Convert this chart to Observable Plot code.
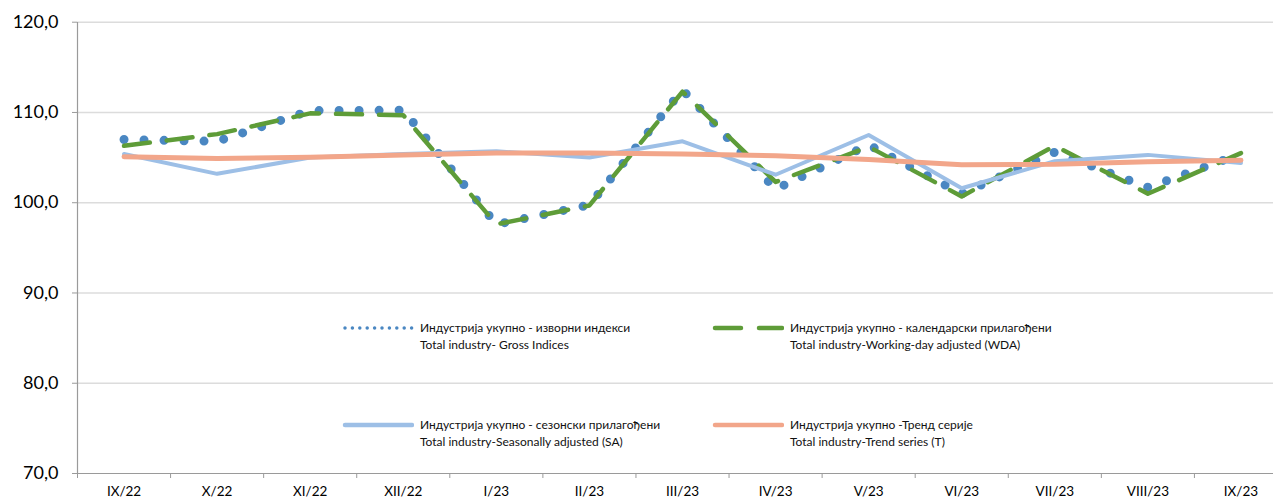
<!DOCTYPE html>
<html>
<head>
<meta charset="utf-8">
<script src="https://cdn.jsdelivr.net/npm/d3@7"></script>
<script src="https://cdn.jsdelivr.net/npm/@observablehq/plot@0.6"></script>
<style>
  html, body { margin: 0; padding: 0; background: #fff; overflow: hidden; }
  #wrap { position: relative; width: 1273px; height: 499px; font-family: Lato, "Open Sans", sans-serif; }
  .leg { position: absolute; font-size: 12px; line-height: 17px; color: #111; white-space: nowrap; }
  .sw { position: absolute; }
</style>
</head>
<body>
<div id="wrap"></div>
<script>
const months = ["IX/22","X/22","XI/22","XII/22","I/23","II/23","III/23","IV/23","V/23","VI/23","VII/23","VIII/23","IX/23"];
const gross = [107.0, 106.8, 110.2, 110.25, 97.6, 99.75, 112.5, 101.5, 106.4, 101.0, 105.6, 101.7, 105.4];
const wda   = [106.3, 107.6, 109.9, 109.7, 97.6, 99.7, 112.3, 102.3, 106.2, 100.7, 106.3, 101.0, 105.5];
const sa    = [105.4, 103.2, 105.0, 105.4, 105.7, 105.0, 106.8, 103.1, 107.5, 101.6, 104.6, 105.3, 104.4];
const trend = [105.1, 104.9, 105.05, 105.3, 105.5, 105.5, 105.4, 105.2, 104.8, 104.2, 104.25, 104.55, 104.7];
const yTicks = [70, 80, 90, 100, 110, 120];
const gridTicks = [80, 90, 100, 110, 120];

const seriesLabels = [
  ["Индустрија укупно - изворни индекси", "Total industry- Gross Indices"],
  ["Индустрија укупно - календарски прилагођени", "Total industry-Working-day adjusted (WDA)"],
  ["Индустрија укупно - сезонски прилагођени", "Total industry-Seasonally adjusted (SA)"],
  ["Индустрија укупно -Тренд серије", "Total industry-Trend series (T)"]
];

const C = { gross: "#4a87c2", wda: "#5e9c38", sa: "#9dbfe6", trend: "#f2a68a", grid: "#dcdcdc", axis: "#9a9a9a" };

const rows = months.map((m, i) => ({ i, m, gross: gross[i], wda: wda[i], sa: sa[i], trend: trend[i] }));
const boundaries = d3.range(months.length + 1).map(i => i - 0.5);

const chart = Plot.plot({
  width: 1273,
  height: 499,
  marginLeft: 77,
  marginRight: 0,
  marginTop: 22,
  marginBottom: 26,
  style: { fontFamily: "Lato, 'Open Sans', sans-serif", color: "#000", background: "transparent" },
  x: { type: "linear", domain: [-0.5, 12.5], range: [77, 1287], label: null },
  y: { domain: [70, 120], range: [473, 21.7], label: null },
  marks: [
    Plot.ruleY(gridTicks, { stroke: C.grid, strokeWidth: 1.5 }),
    Plot.ruleY([70], { stroke: C.axis, strokeWidth: 1.2 }),
    Plot.ruleX([-0.5], { stroke: C.axis, strokeWidth: 1.2 }),
    Plot.axisY({ ticks: yTicks, tickFormat: d => d.toFixed(1).replace(".", ","), tickSize: 5, tickPadding: 14, fontSize: 18, stroke: C.axis, label: null }),
    Plot.axisX({ ticks: d3.range(months.length), tickFormat: i => months[i], tickSize: 0, tickPadding: 13, fontSize: 13.5, label: null }),
    Plot.axisX({ ticks: boundaries, tickFormat: () => "", tickSize: 5, stroke: C.axis, label: null }),
    Plot.line(rows, { x: "i", y: "gross", stroke: C.gross, strokeWidth: 9, strokeDasharray: "0,20", strokeLinecap: "round", strokeLinejoin: "round" }),
    Plot.line(rows, { x: "i", y: "wda", stroke: C.wda, strokeWidth: 4.5, strokeDasharray: "26,17", strokeLinecap: "round", strokeLinejoin: "round" }),
    Plot.line(rows, { x: "i", y: "sa", stroke: C.sa, strokeWidth: 4, strokeLinejoin: "round" }),
    Plot.line(rows, { x: "i", y: "trend", stroke: C.trend, strokeWidth: 5, strokeLinejoin: "round", strokeLinecap: "round" })
  ]
});

const wrap = document.getElementById("wrap");
wrap.appendChild(chart);

// Legend overlay (2 x 2)
const legendItems = [
  { key: "gross", x: 345, y: 328, dash: "0,7.4", width: 3.5, cap: "round" },
  { key: "wda", x: 715, y: 328, dash: "26,18", width: 4.5, cap: "round" },
  { key: "sa", x: 345, y: 425, dash: null, width: 4.5, cap: "round" },
  { key: "trend", x: 715, y: 425, dash: null, width: 4.5, cap: "round" }
];
legendItems.forEach((it, k) => {
  const ns = "http://www.w3.org/2000/svg";
  const s = document.createElementNS(ns, "svg");
  s.setAttribute("class", "sw");
  s.setAttribute("width", 72);
  s.setAttribute("height", 12);
  s.style.left = (it.x - 3) + "px";
  s.style.top = (it.y - 6) + "px";
  const ln = document.createElementNS(ns, "line");
  ln.setAttribute("x1", 3); ln.setAttribute("x2", 3 + 67);
  ln.setAttribute("y1", 6); ln.setAttribute("y2", 6);
  ln.setAttribute("stroke", C[it.key]);
  ln.setAttribute("stroke-width", it.width);
  ln.setAttribute("stroke-linecap", it.cap);
  if (it.dash) ln.setAttribute("stroke-dasharray", it.dash);
  s.appendChild(ln);
  wrap.appendChild(s);
  const t = document.createElement("div");
  t.className = "leg";
  t.style.left = (it.x + 75) + "px";
  t.style.top = (it.y - 9) + "px";
  t.innerHTML = seriesLabels[k][0] + "<br>" + seriesLabels[k][1];
  wrap.appendChild(t);
});
</script>
</body>
</html>
